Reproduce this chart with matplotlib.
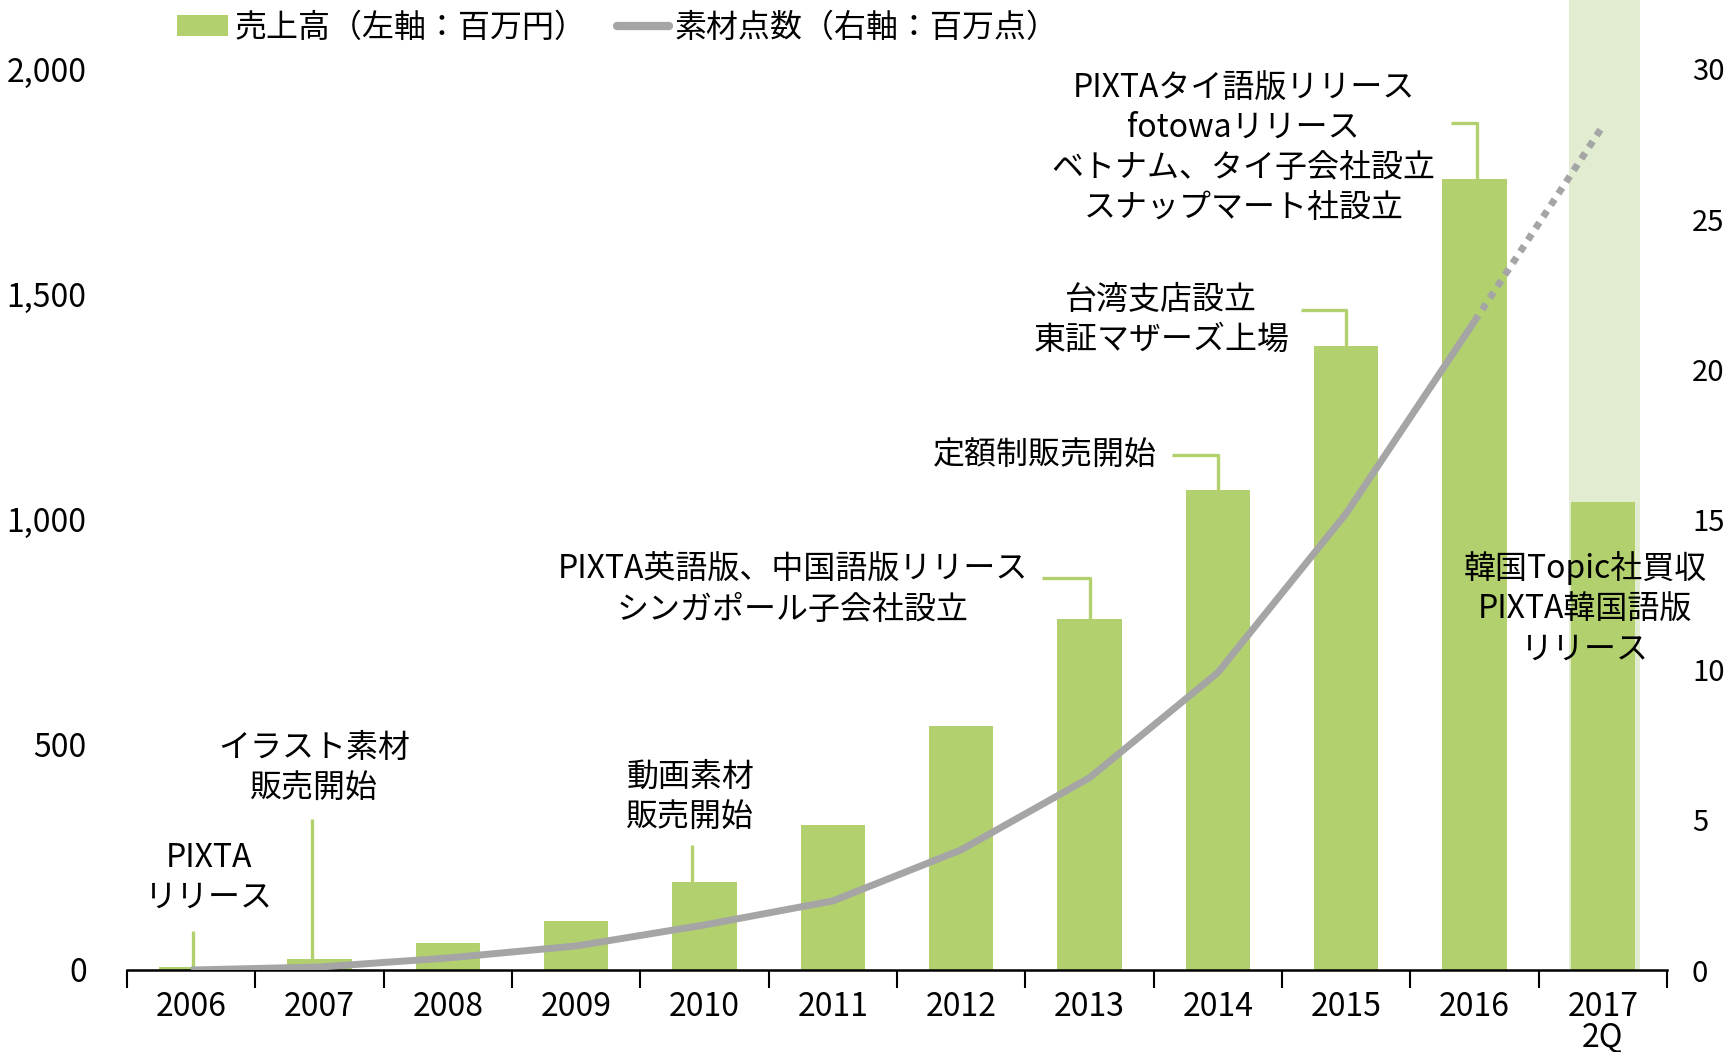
import numpy as np
import matplotlib
matplotlib.use("Agg")
import matplotlib.pyplot as plt
from matplotlib.patches import Patch
from matplotlib.lines import Line2D

plt.rcParams['font.family'] = ['Noto Sans CJK JP', 'DejaVu Sans']

# data
years = ['2006', '2007', '2008', '2009', '2010', '2011',
         '2012', '2013', '2014', '2015', '2016', '2017\n2Q']
sales = [7, 25, 59, 108, 196, 321, 542, 779, 1066, 1385, 1755, 1039]   # 百万円
assets = [0.0, 0.1, 0.4, 0.8, 1.5, 2.3, 4.0, 6.4, 9.9, 15.2, 21.6, 28.1]  # 百万点

events = ['PIXTA\nリリース',
          'イラスト素材\n販売開始',
          '動画素材\n販売開始',
          'PIXTA英語版、中国語版リリース\nシンガポール子会社設立',
          '定額制販売開始',
          '台湾支店設立\n東証マザーズ上場',
          'PIXTAタイ語版リリース\nfotowaリリース\nベトナム、タイ子会社設立\nスナップマート社設立',
          '韓国Topic社買収\nPIXTA韓国語版\nリリース']
event_bar = [0, 1, 4, 7, 8, 9, 10, None]

# layout of the callouts (text centre, leader start)
text_pos = [(0.14, 204), (0.96, 448), (3.89, 384), (4.69, 844),
            (6.65, 1143), (7.56, 1443), (8.2, 1825), (10.86, 803)]
leader = [(0.014, 87, None), (0.94, 335, None), (3.90, 277, None),
          (6.63, 869, 7.0), (7.64, 1143, 8.0), (8.65, 1466, 9.0),
          (9.82, 1879, 10.02), None]

GREEN = '#b3d06f'
LIGHT = '#e2ecd0'
GREY = '#a5a5a5'
FS = 23

fig = plt.figure(figsize=(17.28, 10.52), dpi=100)
ax = fig.add_axes([127/1728, 82/1052, 1540/1728, 970/1052])
ax2 = ax.twinx()

x = np.arange(len(years))
ymax = 2153
ax.set_xlim(-0.5, len(years) - 0.5)
ax.set_ylim(0, ymax)
ax2.set_ylim(0, ymax * 30 / 2000)

# highlight column for the latest period
ax.axvspan(x[-1] - 0.26, x[-1] + 0.29, color=LIGHT, zorder=0, lw=0)
ax.bar(x, sales, width=0.5, color=GREEN, zorder=2)

ax2.plot(x[:-1], assets[:-1], color=GREY, lw=5, solid_capstyle='butt', zorder=3)
ax2.plot(x[-2:], assets[-2:], color=GREY, lw=5, linestyle=(0, (1, 1)),
         dash_capstyle='butt', zorder=3)

# callouts
for txt, (tx, ty), ld, bi in zip(events, text_pos, leader, event_bar):
    ax.text(tx, ty, txt, ha='center', va='center', fontsize=FS,
            linespacing=1.32, zorder=5)
    if ld is None:
        continue
    x0, y0, x1 = ld
    if x1 is None:
        ax.plot([x0, x0], [y0, sales[bi]], color=GREEN, lw=2.4, zorder=4,
                solid_capstyle='butt')
    else:
        ax.plot([x0, x1, x1], [y0, y0, sales[bi]], color=GREEN, lw=2.4,
                zorder=4, solid_capstyle='butt')

# axes styling
for a in (ax, ax2):
    for s in ('left', 'right', 'top'):
        a.spines[s].set_visible(False)
ax2.spines['bottom'].set_visible(False)
ax.spines['bottom'].set_linewidth(1.8)

ax.set_xticks(x)
ax.set_xticklabels(years, fontsize=FS, linespacing=0.95)
ax.set_xticks(np.arange(-0.5, len(years)), minor=True)
ax.tick_params(axis='x', which='major', length=0, pad=15)
ax.tick_params(axis='x', which='minor', length=13, width=1.5, direction='out')

ax.set_yticks([0, 500, 1000, 1500, 2000])
ax.set_yticklabels(['0', '500', '1,000', '1,500', '2,000'], fontsize=FS)
ax.tick_params(axis='y', length=0, pad=29)
ax2.set_yticks([0, 5, 10, 15, 20, 25, 30])
ax2.set_yticklabels(['0', '5', '10', '15', '20', '25', '30'], fontsize=21)
ax2.tick_params(axis='y', length=0, pad=18)

handles = [Patch(facecolor=GREEN, edgecolor='none'),
           Line2D([], [], color=GREY, lw=6, solid_capstyle='round')]
labels = ['売上高（左軸：百万円）', '素材点数（右軸：百万点）']
fig.legend(handles, labels, loc='center left', bbox_to_anchor=(177/1728, 1 - 28/1052),
           ncol=2, frameon=False, fontsize=FS, handlelength=1.6, handleheight=0.62,
           handletextpad=0.2, columnspacing=0.97, borderpad=0, borderaxespad=0)

fig.savefig('out.png', dpi=100)
